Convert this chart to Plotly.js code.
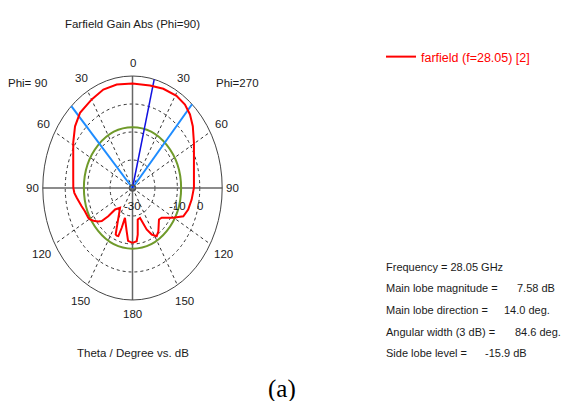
<!DOCTYPE html>
<html>
<head>
<meta charset="utf-8">
<script src="https://cdn.plot.ly/plotly-3.0.1.min.js"></script>
<style>html,body{margin:0;padding:0;background:#fff}</style>
</head>
<body>
<div id="chart" style="width:561px;height:401px"></div>
<script>
// ---------- data ----------
// Theta (deg): negative = Phi=90 side (left), positive = Phi=270 side (right)
const thetaDeg = [-180,-176,-174,-170.5,-165,-162.5,-161.3,-159.8,-157.5,-155.7,
  -153.6,-147.7,-141.9,-134.6,-133,-130.8,-128,-123.9,-120.7,-118.4,
  -113.4,-111.3,-106,-102.5,-98,-93.8,-89.8,-83.4,-68.9,-58.5,
  -49.3,-41.1,-29.9,-20.3,-10.8,0,12,21.2,30.8,38.1,
  44.3,50.6,59.5,69.7,83.6,89.8,98.9,107.2,114,120.3,
  124.9,129.2,133.6,138,143.3,147.9,152.7,156.9,158.9,162.5,
  168.3,172,174.4,178.9];
const gainDb = [-10.4,-10.7,-11.0,-14.3,-18.4,-18.8,-15.0,-11.7,-11.6,-11.8,
  -14.2,-18.8,-21.0,-19.1,-15.2,-11.9,-10.6,-9.0,-8.0,-7.6,
  -7.5,-7.2,-6.4,-5.7,-4.9,-4.0,-3.6,-3.4,-1.7,1.0,
  3.8,5.6,6.5,7.5,7.6,7.3,7.4,8.0,8.3,7.9,
  6.7,4.8,1.8,-0.8,-2.7,-2.6,-3.3,-4.0,-5.2,-8.9,
  -11.4,-13.2,-13.7,-12.5,-10.7,-9.7,-11.3,-13.9,-16.7,-18.8,
  -18.5,-13.2,-10.9,-10.4];
const seriesName = "farfield (f=28.05) [2]";
const mainLobeDirDeg = 14.0;
const beamEdgeDeg = [-43.0, 41.6];
const mainLobeDb = 7.58;
const sideLobeLevelDb = -15.9;
const radialMinDb = -30, radialMaxDb = 10;
const ringDb = [-20, -10, 0];
const radialTickLabels = ["-30", "-10", "0"];
const radialTickDb = [-30, -10, 0];
const spokeDeg = [30, 60, 120, 150];
const thetaTickDeg = [0, 30, 60, 90, 120, 150, 180];
const thetaTickLabels = ["0", "30", "60", "90", "120", "150", "180"];
const statLabels = ["Main lobe magnitude =", "Main lobe direction =", "Angular width (3 dB) =", "Side lobe level ="];
const statValues = ["7.58 dB", "14.0 deg.", "84.6 deg.", "-15.9 dB"];
const freqText = "Frequency = 28.05 GHz";

// ---------- layout geometry (pixels) ----------
const W = 561, H = 401;
const CX = 132.5, CY = 188, AX = 89.7, BY = 112;
const ML = 33, MR = 330, MT = 65, MB = 90;
const PW = W - ML - MR, PH = H - MT - MB;
const px = x => (x - ML) / PW;
const py = y => (H - MB - y) / PH;
const FONT = "Liberation Sans, Arial, sans-serif";
const TXT = "#1a1a1a";

const norm = db => (db - radialMinDb) / (radialMaxDb - radialMinDb);
const toXY = (deg, rn) => [rn * Math.sin(deg * Math.PI / 180), rn * Math.cos(deg * Math.PI / 180)];

// red curve
const cx = [], cy = [];
thetaDeg.forEach((t, i) => { const p = toXY(t, norm(gainDb[i])); cx.push(p[0]); cy.push(p[1]); });
cx.push(cx[0]); cy.push(cy[0]);

const shapes = [];
// dashed rings
ringDb.forEach(d => { const r = norm(d);
  shapes.push({type:'circle', xref:'x', yref:'y', x0:-r, x1:r, y0:-r, y1:r, layer:'below',
    line:{color:'#333', width:1, dash:'3px,3px'}}); });
// dashed spokes
spokeDeg.forEach(s => [s, -s].forEach(a => { const p = toXY(a, 1);
  shapes.push({type:'line', xref:'x', yref:'y', x0:0, y0:0, x1:p[0], y1:p[1], layer:'below',
    line:{color:'#333', width:1, dash:'3px,3px'}}); }));
// solid axes
shapes.push({type:'line', xref:'x', yref:'y', x0:0, y0:-1, x1:0, y1:1, layer:'below', line:{color:'#666', width:1.5}});
shapes.push({type:'line', xref:'x', yref:'y', x0:-1, y0:0, x1:1, y1:0, layer:'below', line:{color:'#666', width:1.5}});
// outer ring
shapes.push({type:'circle', xref:'x', yref:'y', x0:-1, x1:1, y0:-1, y1:1, layer:'below', line:{color:'#444', width:1}});
// side lobe level circle (green)
const gr = norm(mainLobeDb + sideLobeLevelDb);
shapes.push({type:'circle', xref:'x', yref:'y', x0:-gr, x1:gr, y0:-gr, y1:gr, layer:'below', line:{color:'#6f9a2a', width:2}});
// beam edges (light blue) and main lobe direction (blue)
beamEdgeDeg.forEach(a => { const p = toXY(a, 1);
  shapes.push({type:'line', xref:'x', yref:'y', x0:0, y0:0, x1:p[0], y1:p[1], layer:'below', line:{color:'#1e8cff', width:2}}); });
{ const p = toXY(mainLobeDirDeg, 1);
  shapes.push({type:'line', xref:'x', yref:'y', x0:0, y0:0, x1:p[0], y1:p[1], layer:'below', line:{color:'#1010e0', width:1.5}}); }

const ann = [];
const addText = (x, y, text, opts) => ann.push(Object.assign({xref:'paper', yref:'paper', x:px(x), y:py(y), text:text,
  showarrow:false, xanchor:'center', yanchor:'middle', font:{family:FONT, size:11.5, color:TXT}}, opts || {}));
const STATFONT = {family:FONT, size:11, color:TXT};

// theta tick labels
const labelR = {0:1.115, 30:1.135, 60:1.14, 90:1.11, 120:1.175, 150:1.165, 180:1.125};
thetaTickDeg.forEach((t, i) => {
  const sides = (t === 0 || t === 180) ? [t] : [-t, t];
  sides.forEach(a => { const p = toXY(a, labelR[t]);
    addText(CX + p[0] * AX, CY - p[1] * BY, thetaTickLabels[i]); });
});
// radial tick labels
radialTickDb.forEach((d, i) => addText(CX + norm(d) * AX, CY + 18, radialTickLabels[i]));
addText(27.5, 83, "Phi=\u00a090");
addText(238, 83, "Phi=270");
addText(132.5, 353, "Theta / Degree vs. dB");
addText(282, 389, "(a)", {font:{family:"Liberation Serif, Times New Roman, serif", size:25, color:'#000'}});
// stats
addText(383.5, 266.7, freqText, {xanchor:'left', font:STATFONT});
const statY = [288.3, 310, 331.7, 353.3];
const statValX = [515, 502, 513, 483];
statLabels.forEach((s, i) => {
  addText(383.5, statY[i], s, {xanchor:'left', font:STATFONT});
  addText(statValX[i], statY[i], statValues[i], {xanchor:'left', font:STATFONT});
});

const traces = [
  {type:'scatter', mode:'lines', x:cx, y:cy, name:seriesName, line:{color:'#ff0000', width:2}, hoverinfo:'skip'},
  {type:'scatter', mode:'markers', x:[0], y:[0], showlegend:false, hoverinfo:'skip',
    marker:{symbol:'circle-open', size:6, color:'#555', line:{width:1.5}}}
];

const layout = {
  width:W, height:H, margin:{l:ML, r:MR, t:MT, b:MB, pad:0},
  paper_bgcolor:'#fff', plot_bgcolor:'rgba(0,0,0,0)',
  title:{text:"Farfield Gain Abs (Phi=90)", x:px(132.5), xref:'paper', xanchor:'center',
    y:1 - 24.3 / H, yref:'container', yanchor:'middle', font:{family:FONT, size:11.5, color:TXT}},
  xaxis:{range:[-(CX - ML) / AX, (ML + PW - CX) / AX], visible:false, fixedrange:true},
  yaxis:{range:[-(MT + PH - CY) / BY, (CY - MT) / BY], visible:false, fixedrange:true},
  showlegend:true,
  legend:{x:px(381), xref:'paper', xanchor:'left', y:py(57), yanchor:'middle', bgcolor:'rgba(0,0,0,0)',
    font:{family:FONT, size:12.5, color:'#ff0000'}},
  shapes:shapes, annotations:ann
};
Plotly.newPlot('chart', traces, layout, {displayModeBar:false, staticPlot:true});
</script>
</body>
</html>
